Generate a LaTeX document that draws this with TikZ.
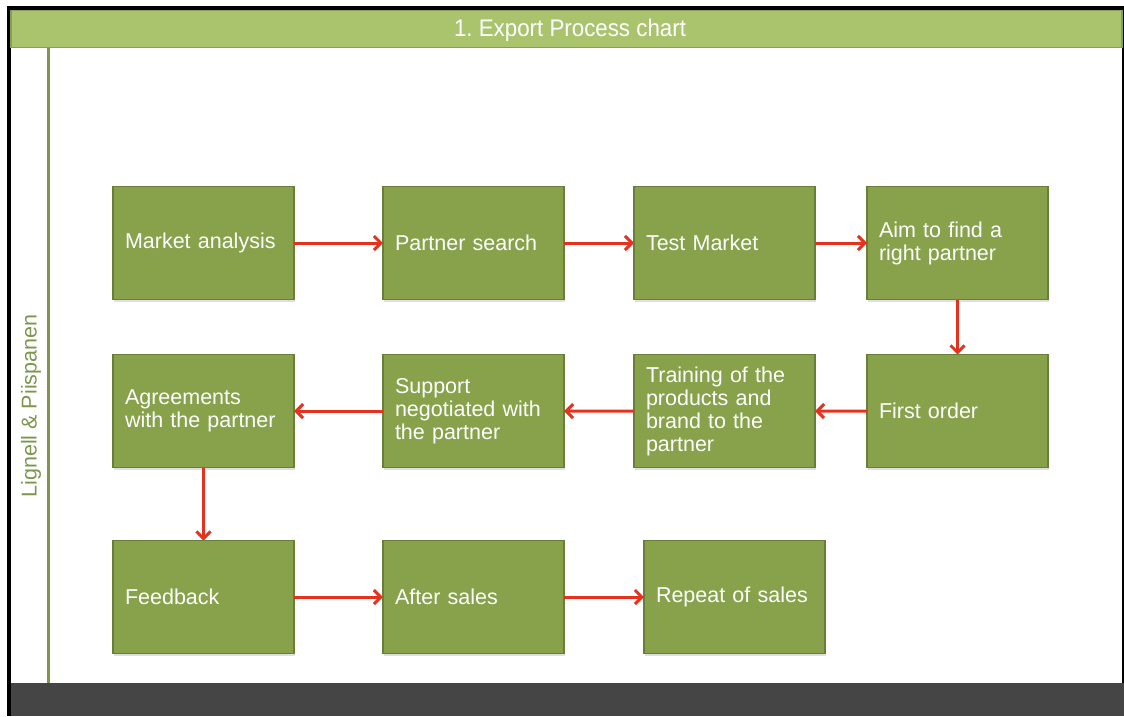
\documentclass[tikz,border=0pt]{standalone}
\usepackage{fontspec}
\setmainfont{Liberation Sans}
\usetikzlibrary{positioning,arrows.meta,shadows}

\definecolor{boxgreen}{HTML}{87A24B}
\definecolor{boxedge}{HTML}{687E39}
\definecolor{headgreen}{HTML}{AAC46E}
\definecolor{headedge}{HTML}{869F57}
\definecolor{arrowred}{HTML}{E5321F}
\definecolor{bargray}{HTML}{454545}
\definecolor{labelgreen}{HTML}{7D974F}

\begin{document}
\begin{tikzpicture}[x=1pt,y=-1pt,thick,
	stepbox/.style={draw=boxedge,fill=boxgreen,line width=1.2pt,text width=157pt,
		minimum height=113pt,inner sep=12pt,outer sep=0pt,align=left,text=white,
		font=\fontsize{21.5}{23}\selectfont,
		drop shadow={opacity=0.25,shadow xshift=1pt,shadow yshift=-2pt}},
	flow/.style={draw=arrowred,line width=3pt,-{Straight Barb[length=7pt,width=14pt,line width=3pt]}}]

	\useasboundingbox (0,0) rectangle (1124,716);
	\fill[white] (0,0) rectangle (1124,716);

	% frame and bars
	\fill[black] (7,6) rectangle (1124,716);
	\fill[white] (11,10) rectangle (1122,683);
	\fill[bargray] (11,683) rectangle (1124,716);
	\draw[headedge,fill=headgreen,line width=1.5pt] (11,10.5) rectangle (1122,47.5);
	\draw[labelgreen,line width=3pt] (48.5,48) -- (48.5,683);

	\node[text=white,font=\fontsize{24}{26}\selectfont,xscale=0.93] (title) at (570,30) {1.\ Export Process chart};
	\node[rotate=90,text=labelgreen,font=\fontsize{21.5}{24}\selectfont] (authors) at (31,406) {Lignell \& Piispanen};

	\begin{scope}[every node/.style={stepbox}]
		\node (market) at (203.5,243) {Market analysis};
		\node[right=89pt of market] (search) {Partner search};
		\node[right=70pt of search] (test) {Test Market};
		\node[right=52pt of test] (aim) {Aim to find a\\right partner};

		\node[below=55pt of aim] (order) {First order};
		\node[below=55pt of test] (training) {Training of the\\products and\\brand to the\\partner};
		\node[below=55pt of search] (support) {Support\\negotiated with\\the partner};
		\node[below=55pt of market] (agree) {Agreements\\with the partner};

		\node[below=73pt of agree] (feedback) {Feedback};
		\node[right=89pt of feedback] (after) {After sales};
		\node[right=80pt of after] (repeat) {Repeat of sales};
	\end{scope}

	\draw[flow] (market) -- (search);
	\draw[flow] (search) -- (test);
	\draw[flow] (test) -- (aim);
	\draw[flow] (aim) -- (order);
	\draw[flow] (order) -- (training);
	\draw[flow] (training) -- (support);
	\draw[flow] (support) -- (agree);
	\draw[flow] (agree) -- (feedback);
	\draw[flow] (feedback) -- (after);
	\draw[flow] (after) -- (repeat);

\end{tikzpicture}
\end{document}
